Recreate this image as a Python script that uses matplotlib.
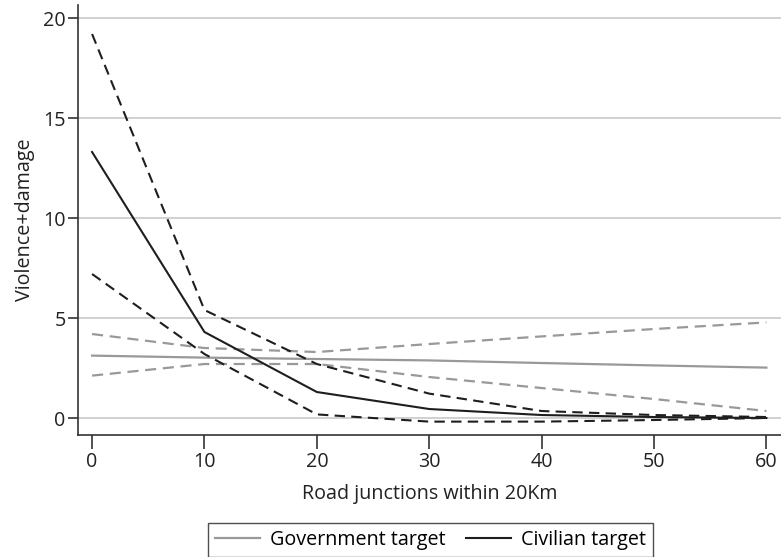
import matplotlib
matplotlib.use("Agg")
import matplotlib.pyplot as plt

x = [0, 10, 20, 30, 40, 50, 60]
gov_mean = [3.12, 3.02, 2.95, 2.88, 2.75, 2.63, 2.52]
gov_upper = [4.2, 3.5, 3.3, 3.7, 4.08, 4.45, 4.78]
gov_lower = [2.12, 2.7, 2.7, 2.05, 1.5, 0.95, 0.35]
civ_mean = [13.3, 4.3, 1.3, 0.45, 0.15, 0.05, 0.0]
civ_upper = [19.2, 5.4, 2.7, 1.22, 0.35, 0.15, 0.05]
civ_lower = [7.2, 3.2, 0.18, -0.18, -0.18, -0.1, 0.0]

xticks = [0, 10, 20, 30, 40, 50, 60]
yticks = [0, 5, 10, 15, 20]

plt.rcParams['font.family'] = ['Open Sans', 'DejaVu Sans']

fig = plt.figure(figsize=(7.81, 5.57), dpi=100)
ax = fig.add_axes([0.0999, 0.219, 0.9001, 0.772])

gray = '#999999'
dark = '#1e1e1e'
ax.plot(x, gov_mean, color=gray, lw=1.6, label='Government target', zorder=3)
ax.plot(x, gov_upper, color=gray, lw=1.6, ls=(0, (5, 3)), zorder=3)
ax.plot(x, gov_lower, color=gray, lw=1.6, ls=(0, (5, 3)), zorder=3)
ax.plot(x, civ_mean, color=dark, lw=1.5, label='Civilian target', zorder=4)
ax.plot(x, civ_upper, color=dark, lw=1.5, ls=(0, (5, 3)), zorder=4)
ax.plot(x, civ_lower, color=dark, lw=1.5, ls=(0, (5, 3)), zorder=4)

ax.set_xlim(-1.25, 61.3)
ax.set_ylim(-0.85, 20.65)
ax.set_xticks(xticks)
ax.set_yticks(yticks)
ax.grid(axis='y', color='#c8c8c8', lw=1.2)
ax.set_axisbelow(True)
for s in ['top', 'right']:
    ax.spines[s].set_visible(False)
for s in ['left', 'bottom']:
    ax.spines[s].set_color('#333333')
    ax.spines[s].set_linewidth(1.2)
fs = 14.2
ax.tick_params(axis='x', length=10, width=1.2, color='#333333', labelsize=fs, pad=2, labelcolor='#222222')
ax.tick_params(axis='y', length=7, width=1.2, color='#333333', labelsize=fs, pad=2, labelcolor='#222222')
ax.set_xlabel('Road junctions within 20Km', fontsize=fs, labelpad=9, color='#222222')
ax.set_ylabel('Violence+damage', fontsize=fs, labelpad=6, color='#222222')

leg = fig.legend(loc='center', bbox_to_anchor=(0.551, 0.0305), ncol=2, frameon=True,
                 fontsize=fs, fancybox=False, edgecolor='#222222', handlelength=2.3,
                 borderpad=0.35, columnspacing=1.0, handletextpad=0.5)
leg.get_frame().set_linewidth(1.0)

fig.savefig('out.png', dpi=100)
